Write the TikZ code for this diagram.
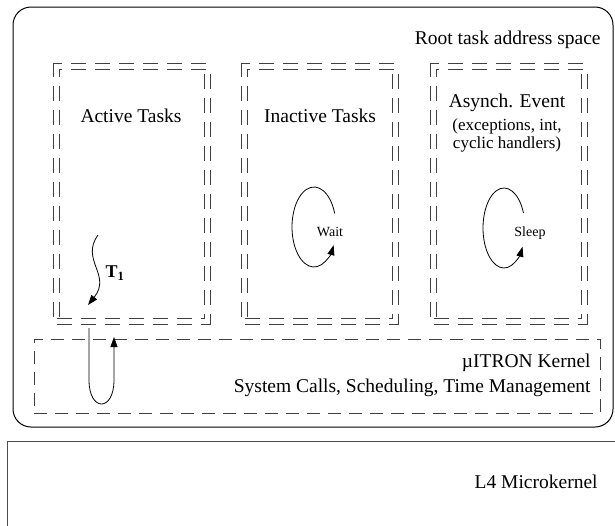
\documentclass[tikz,border=0pt]{standalone}
\usepackage{fontspec}
\setmainfont{Liberation Serif}
\usetikzlibrary{arrows.meta}

\begin{document}
\begin{tikzpicture}[x=1pt,y=-1pt,line width=0.8pt,
box/.style={draw,inner sep=0pt,outer sep=0pt},
taskbox/.style={box,draw=black!75,dash pattern=on 15pt off 9pt,double,double distance=5.2pt,minimum width=151pt,minimum height=255pt},
kernelbox/.style={box,draw=black!75,dash pattern=on 13pt off 8pt,minimum width=566pt,minimum height=74pt},
txt/.style={font=\fontsize{19.5pt}{22pt}\selectfont,inner sep=0pt},
note/.style={font=\fontsize{17pt}{18pt}\selectfont,inner sep=0pt,align=center},
state/.style={font=\fontsize{14pt}{16pt}\selectfont,inner sep=0pt},
flow/.style={-{Triangle[length=10pt,width=7pt]}}]
\useasboundingbox (0,0) rectangle (615,525);
\node[box,rounded corners=18pt,line width=1pt,minimum width=600pt,minimum height=420pt] (root) at (313,217) {};
\node[box,draw=black!70,line width=1pt,minimum width=700pt,minimum height=200pt,anchor=north west] (l4) at (7,441) {};
\node[taskbox] (active) at (132,194) {};
\node[taskbox] (inactive) at (320,194) {};
\node[taskbox] (asynch) at (509,194) {};
\node[kernelbox] (kernel) at (317,376) {};

\node[txt,anchor=east] (rootlbl) at (601,40) {Root task address space};
\node[txt] (activelbl) at (131,116) {Active Tasks};
\node[txt] (inactivelbl) at (320,116) {Inactive Tasks};
\node[txt] (asynchlbl) at (507,103) {Asynch. Event};
\node[note] (asynchnote) at (507,135) {(exceptions, int,\\cyclic handlers)};
\node[state] (waitlbl) at (330,232) {Wait};
\node[state] (sleeplbl) at (530,233) {Sleep};
\node[font=\fontsize{18pt}{20pt}\selectfont\bfseries,inner sep=0pt] (t1lbl) at (115,273) {T\textsubscript{1}};
\node[txt,anchor=east] (kernellbl) at (591,363) {µITRON Kernel};
\node[txt,anchor=east] (syscalls) at (591,388) {System Calls, Scheduling, Time Management};
\node[txt,anchor=east] (l4lbl) at (598,482) {L4 Microkernel};

\coordinate (waitc) at (314,227);
\coordinate (sleepc) at (504,228);
\draw[flow] ([shift={(-20:22 and 40)}]waitc) arc[start angle=-20,end angle=-333,x radius=22,y radius=40];
\draw[flow] ([shift={(-22:21 and 40)}]sleepc) arc[start angle=-22,end angle=-332,x radius=21,y radius=40];

\coordinate (t1from) at (98,235);
\coordinate (t1to) at (88,305);
\draw[flow] (t1from) .. controls (80,260) and (112,275) .. (t1to);

\coordinate (callfrom) at (89,328);
\coordinate (callto) at (114,337);
\draw[flow] (callfrom) -- (89,380) .. controls (89,412) and (114,412) .. (114,380) -- (callto);
\end{tikzpicture}
\end{document}
